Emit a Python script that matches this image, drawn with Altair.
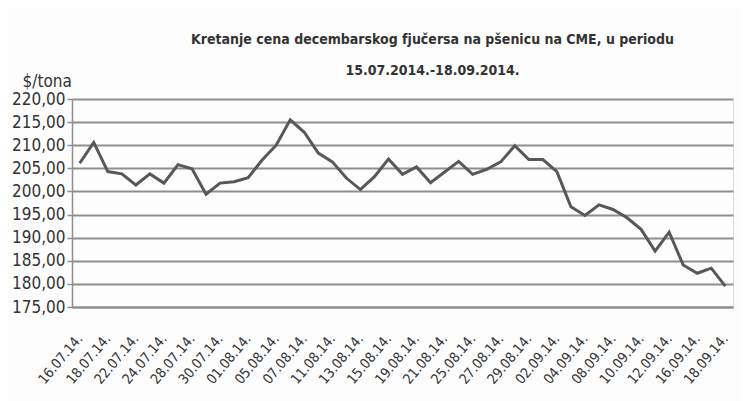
import altair as alt
import pandas as pd

dates = [
    "16.07.14.", "17.07.14.", "18.07.14.", "21.07.14.", "22.07.14.", "23.07.14.",
    "24.07.14.", "25.07.14.", "28.07.14.", "29.07.14.", "30.07.14.", "31.07.14.",
    "01.08.14.", "04.08.14.", "05.08.14.", "06.08.14.", "07.08.14.", "08.08.14.",
    "11.08.14.", "12.08.14.", "13.08.14.", "14.08.14.", "15.08.14.", "18.08.14.",
    "19.08.14.", "20.08.14.", "21.08.14.", "22.08.14.", "25.08.14.", "26.08.14.",
    "27.08.14.", "28.08.14.", "29.08.14.", "01.09.14.", "02.09.14.", "03.09.14.",
    "04.09.14.", "05.09.14.", "08.09.14.", "09.09.14.", "10.09.14.", "11.09.14.",
    "12.09.14.", "15.09.14.", "16.09.14.", "17.09.14.", "18.09.14.",
]
prices = [
    206.1, 210.6, 204.3, 203.8, 201.4, 203.8,
    201.8, 205.8, 204.9, 199.4, 201.8, 202.1,
    203.0, 206.8, 210.0, 215.5, 212.8, 208.3,
    206.4, 202.9, 200.4, 203.2, 207.0, 203.7,
    205.3, 201.9, 204.2, 206.5, 203.7, 204.8,
    206.4, 209.9, 206.9, 206.9, 204.3, 196.7,
    194.8, 197.1, 196.1, 194.3, 191.8, 187.1,
    191.2, 184.1, 182.3, 183.4, 179.5,
]
label_dates = dates[::2]
y_ticks = [175, 180, 185, 190, 195, 200, 205, 210, 215, 220]

title_lines = ["Kretanje cena decembarskog fjučersa na  pšenicu na CME, u periodu",
               "15.07.2014.-18.09.2014."]
y_title = "$/tona"

df = pd.DataFrame({"date": dates, "price": prices})

FONT = "DejaVu Sans Condensed, Liberation Sans, sans-serif"
TXT = "#333333"
GRID = "#8f8f8f"

chart = alt.Chart(df).mark_line(color="#585858", strokeWidth=3).encode(
    x=alt.X("date:O", sort=None,
            scale=alt.Scale(type="point", domain=dates, padding=0.55),
            axis=alt.Axis(values=label_dates, title=None, labelAngle=-50,
                          labelAlign="right", labelBaseline="middle",
                          labelPadding=29, ticks=False, domain=True,
                          domainColor=GRID, domainWidth=2,
                          labelFont=FONT, labelFontSize=14, labelColor=TXT,
                          grid=False)),
    y=alt.Y("price:Q",
            scale=alt.Scale(domain=[175, 220], nice=False, zero=False),
            axis=alt.Axis(values=y_ticks, title=y_title, titleAngle=0,
                          titleAlign="left", titleBaseline="alphabetic",
                          titleX=-50, titleY=-13, titleFont=FONT,
                          titleFontSize=17, titleFontWeight="normal",
                          titleColor=TXT,
                          labelExpr="replace(format(datum.value, '.2f'), '.', ',')",
                          labelFont=FONT, labelFontSize=17, labelColor=TXT,
                          labelPadding=2, tickSize=5, tickColor=GRID,
                          tickWidth=1.5, domainColor=GRID, domainWidth=1.5,
                          grid=True, gridColor=GRID, gridWidth=2)),
).properties(
    width=661,
    height=208,
    title=alt.Title(text=title_lines, font=FONT, fontSize=14,
                    fontWeight="bold", color=TXT, lineHeight=31,
                    anchor="middle", dx=30, dy=24, offset=18),
    autosize=alt.AutoSizeParams(type="none"),
    padding={"left": 64, "top": 91, "right": 8, "bottom": 94},
).configure_view(stroke=None).configure(background="#fdfdfd")

chart.save("out.html", embed_options={"renderer": "svg", "actions": False})
